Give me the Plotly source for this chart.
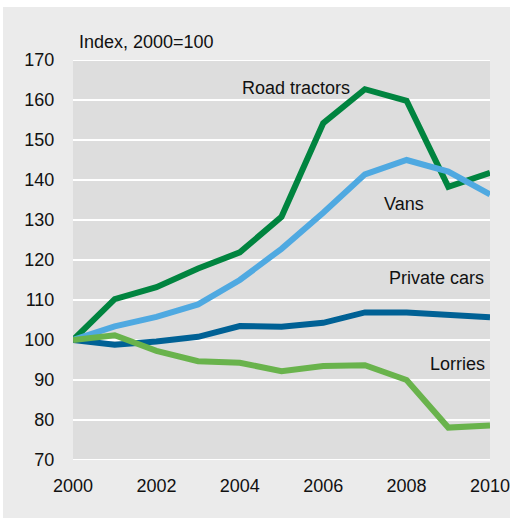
import plotly.graph_objects as go

years = list(range(2000, 2011))
road_tractors = [100, 110.2, 113.2, 117.9, 121.9, 130.8, 154.2, 162.7, 159.8, 138.3, 141.8]
vans = [100, 103.4, 105.8, 108.9, 115.0, 122.8, 131.8, 141.4, 145.0, 142.1, 136.4]
private_cars = [100, 98.8, 99.6, 100.8, 103.5, 103.3, 104.3, 106.9, 106.9, 106.4, 105.7]
lorries = [100, 101.2, 97.3, 94.7, 94.3, 92.2, 93.5, 93.7, 90.0, 78.1, 78.6]

series = [
    ("Road tractors", road_tractors, "#00843f"),
    ("Vans", vans, "#4fa9e1"),
    ("Private cars", private_cars, "#006195"),
    ("Lorries", lorries, "#69b34c"),
]

y_ticks = list(range(70, 171, 10))
x_ticks = list(range(2000, 2011, 2))

FONT = "Liberation Sans, Arial, sans-serif"

fig = go.Figure()
for name, vals, color in series:
    fig.add_trace(go.Scatter(x=years, y=vals, mode="lines", name=name,
                             line=dict(color=color, width=6), showlegend=False,
                             hoverinfo="skip"))

labels = [
    ("Road tractors", 2006.7, 163.0, "right"),
    ("Vans", 2007.93, 134.0, "center"),
    ("Private cars", 2009.9, 115.5, "right"),
    ("Lorries", 2009.93, 94.0, "right"),
]
for text, x, y, anchor in labels:
    fig.add_annotation(x=x, y=y, text=text, showarrow=False, xanchor=anchor,
                       yanchor="middle", font=dict(size=18, color="#111111", family=FONT))

fig.add_annotation(xref="paper", yref="paper", x=(77 - 73) / 417, y=(460 - 42) / 400,
                   text="Index, 2000=100", showarrow=False, xanchor="left", yanchor="middle",
                   font=dict(size=18, color="#111111", family=FONT))

# white strips along the top and left edges of the panel
fig.add_shape(type="rect", xref="paper", yref="paper", layer="below",
              x0=(0 - 73) / 417, x1=(512 - 73) / 417,
              y0=(460 - 7) / 400, y1=(460 + 2) / 400,
              fillcolor="white", line=dict(width=0))
fig.add_shape(type="rect", xref="paper", yref="paper", layer="below",
              x0=(-2 - 73) / 417, x1=(3 - 73) / 417,
              y0=(460 - 520) / 400, y1=(460 + 2) / 400,
              fillcolor="white", line=dict(width=0))

# make sure the gridlines at the range edges are visible
for yv in (y_ticks[0], y_ticks[-1]):
    fig.add_shape(type="line", xref="paper", yref="y", x0=0, x1=1, y0=yv, y1=yv,
                  layer="below", line=dict(color="white", width=2))

fig.update_layout(
    width=510, height=518,
    margin=dict(l=73, r=20, t=60, b=58, autoexpand=False),
    paper_bgcolor="#ebebeb",
    plot_bgcolor="#dddddd",
    font=dict(family=FONT, size=18, color="#111111"),
    xaxis=dict(range=[2000, 2010], tickvals=x_ticks, ticktext=[str(v) for v in x_ticks],
               showgrid=False, zeroline=False, showline=False, automargin=False,
               ticklabeloverflow="allow",
               ticks="outside", ticklen=9, tickcolor="rgba(0,0,0,0)"),
    yaxis=dict(range=[70, 170], tickvals=y_ticks, ticktext=[str(v) for v in y_ticks],
               showgrid=True, gridcolor="white", gridwidth=2, zeroline=False, showline=False,
               automargin=False,
               ticks="outside", ticklen=14, tickcolor="rgba(0,0,0,0)"),
)

fig.write_html("out.html", config={"displayModeBar": False},
               post_script="document.body.style.margin='0';")
